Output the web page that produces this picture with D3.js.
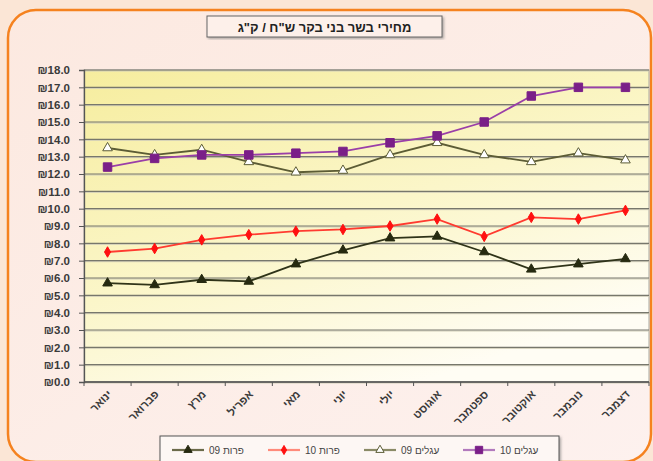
<!DOCTYPE html>
<html>
<head>
<meta charset="utf-8">
<script src="https://cdn.jsdelivr.net/npm/d3@7"></script>
<style>
  body { margin: 0; background: #fbe6d6; }
  svg { display: block; font-family: "Liberation Sans", "DejaVu Sans", Arial, sans-serif; }
</style>
</head>
<body>
<svg id="chart"></svg>
<script>
// data
let months = ["ינואר", "פברואר", "מרץ", "אפריל", "מאי", "יוני", "יולי", "אוגוסט", "ספטמבר", "אוקטובר", "נובמבר", "דצמבר"];
let cows09 = [5.7, 5.6, 5.9, 5.8, 6.8, 7.6, 8.3, 8.4, 7.5, 6.5, 6.8, 7.1];
let cows10 = [7.5, 7.7, 8.2, 8.5, 8.7, 8.8, 9.0, 9.4, 8.4, 9.5, 9.4, 9.9];
let calves09 = [13.5, 13.1, 13.4, 12.7, 12.1, 12.2, 13.1, 13.8, 13.1, 12.7, 13.2, 12.8];
let calves10 = [12.4, 12.9, 13.1, 13.1, 13.2, 13.3, 13.8, 14.2, 15.0, 16.5, 17.0, 17.0];
let seriesNames = ["פרות 09", "פרות 10", "עגלים 09", "עגלים 10"];
let yTicks = d3.range(0, 19, 1);
let title = "מחירי בשר בני בקר ש\"ח / ק\"ג";

let width = 653, height = 461;
let margin = {top: 70, right: 4, bottom: 79, left: 84};

let svg = d3.select("#chart")
    .attr("width", width)
    .attr("height", height);

let defs = svg.append("defs");
let bg = defs.append("linearGradient").attr("id", "bg")
    .attr("x1", 0).attr("y1", 0).attr("x2", 1).attr("y2", 1);
bg.append("stop").attr("offset", "0%").attr("stop-color", "#fce9e0");
bg.append("stop").attr("offset", "100%").attr("stop-color", "#fdf1ee");
let plotBg = defs.append("linearGradient").attr("id", "plotbg")
    .attr("x1", 0).attr("y1", 0).attr("x2", 0.6).attr("y2", 1);
plotBg.append("stop").attr("offset", "0%").attr("stop-color", "#f6ed9e");
plotBg.append("stop").attr("offset", "55%").attr("stop-color", "#fbf6c9");
plotBg.append("stop").attr("offset", "100%").attr("stop-color", "#fffdf4");
let shadow = defs.append("filter").attr("id", "shadow");
shadow.append("feDropShadow").attr("dx", 1.5).attr("dy", 1.5).attr("stdDeviation", 0.8)
    .attr("flood-color", "#777").attr("flood-opacity", 0.6);

// outer frame
svg.append("rect")
    .attr("x", 8).attr("y", 10)
    .attr("width", 643).attr("height", 452)
    .attr("rx", 28).attr("ry", 28)
    .attr("fill", "url(#bg)")
    .attr("stroke", "#f5821f")
    .attr("stroke-width", 2.5);

let x = d3.scalePoint()
    .domain(months)
    .range([margin.left, width - margin.right])
    .padding(0.5);
let step = x.step();

let y = d3.scaleLinear()
    .domain([0, 18])
    .range([height - margin.bottom, margin.top]);

// plot area
svg.append("rect")
    .attr("x", margin.left)
    .attr("y", y(18))
    .attr("width", width - margin.right - margin.left)
    .attr("height", y(0) - y(18))
    .attr("fill", "url(#plotbg)")
    .attr("stroke", "#a8a8a0")
    .attr("stroke-width", 1);

// gridlines
svg.append("g")
    .selectAll("line")
    .data(yTicks)
    .enter().append("line")
    .attr("x1", margin.left)
    .attr("x2", width - margin.right)
    .attr("y1", d => y(d) + 1)
    .attr("y2", d => y(d) + 1)
    .attr("stroke", "#d0cdb8")
    .attr("stroke-width", 1);
svg.append("g")
    .selectAll("line")
    .data(yTicks)
    .enter().append("line")
    .attr("x1", margin.left)
    .attr("x2", width - margin.right)
    .attr("y1", d => y(d))
    .attr("y2", d => y(d))
    .attr("stroke", "#77776c")
    .attr("stroke-width", 1.2);

// y axis
let yAxis = d3.axisLeft(y)
    .tickValues(yTicks)
    .tickSize(5)
    .tickPadding(9)
    .tickFormat(d => "₪" + d3.format(".1f")(d));
let gy = svg.append("g")
    .attr("transform", "translate(" + margin.left + ",0)")
    .call(yAxis);
gy.select(".domain").attr("stroke", "#555").attr("stroke-width", 1.3);
gy.selectAll(".tick line").attr("stroke", "#555");
gy.selectAll(".tick text")
    .attr("fill", "#3a3a3a")
    .style("font-size", "11.5px")
    .style("font-weight", "bold");

// x axis ticks between categories
let gx = svg.append("g");
gx.append("line")
    .attr("x1", margin.left).attr("x2", width - margin.right)
    .attr("y1", y(0)).attr("y2", y(0))
    .attr("stroke", "#555").attr("stroke-width", 1.3);
gx.selectAll(".xt")
    .data(d3.range(months.length + 1))
    .enter().append("line")
    .attr("x1", i => margin.left + i * step)
    .attr("x2", i => margin.left + i * step)
    .attr("y1", y(0))
    .attr("y2", y(0) + 4)
    .attr("stroke", "#555");
gx.selectAll(".xl")
    .data(months)
    .enter().append("text")
    .attr("transform", d => "translate(" + (x(d) + 5) + "," + (y(0) + 13) + ") rotate(-45)")
    .attr("text-anchor", "end")
    .attr("fill", "#3a3a3a")
    .style("font-size", "11px")
    .style("font-weight", "bold")
    .text(d => d);

// series
let series = [
    {name: seriesNames[0], values: cows09, line: "#2f3318", legendLine: "#6b6b4a", fill: "#262a10", stroke: "#262a10", shape: d3.symbolTriangle, size: 40},
    {name: seriesNames[1], values: cows10, line: "#ff3b30", legendLine: "#ff8a7a", fill: "#ff1010", stroke: "#ff1010", shape: d3.symbolDiamond, size: 32},
    {name: seriesNames[2], values: calves09, line: "#5c5c35", legendLine: "#8a8a66", fill: "#ffffff", stroke: "#5c5c35", shape: d3.symbolTriangle, size: 40},
    {name: seriesNames[3], values: calves10, line: "#9a3fa8", legendLine: "#b27abd", fill: "#7a1f88", stroke: "#7a1f88", shape: d3.symbolSquare, size: 72}
];

let line = d3.line()
    .x((d, i) => x(months[i]))
    .y(d => y(d));

series.forEach(function(s) {
    let g = svg.append("g");
    g.append("path")
        .attr("d", line(s.values))
        .attr("fill", "none")
        .attr("stroke", s.line)
        .attr("stroke-width", 1.8);
    g.selectAll("path.m")
        .data(s.values)
        .enter().append("path")
        .attr("class", "m")
        .attr("transform", (d, i) => "translate(" + x(months[i]) + "," + y(d) + ")")
        .attr("d", d3.symbol().type(s.shape).size(s.size))
        .attr("fill", s.fill)
        .attr("stroke", s.stroke)
        .attr("stroke-width", 1);
});

// title
let tg = svg.append("g");
tg.append("rect")
    .attr("x", 207).attr("y", 16)
    .attr("width", 235).attr("height", 21)
    .attr("fill", "#fdf0ea")
    .attr("stroke", "#666")
    .attr("stroke-width", 1)
    .attr("filter", "url(#shadow)");
tg.append("text")
    .attr("x", 324.5).attr("y", 31.5)
    .attr("text-anchor", "middle")
    .attr("fill", "#222")
    .style("font-size", "13px")
    .style("font-weight", "bold")
    .text(title);

// legend
let lg = svg.append("g");
lg.append("rect")
    .attr("x", 160).attr("y", 436)
    .attr("width", 399).attr("height", 40)
    .attr("fill", "#fdf7f4")
    .attr("stroke", "#555")
    .attr("stroke-width", 1)
    .attr("filter", "url(#shadow)");
let legendX = [172, 268, 364, 463];
series.forEach(function(s, i) {
    let g = lg.append("g").attr("transform", "translate(" + legendX[i] + ",450)");
    g.append("line")
        .attr("x1", 0).attr("x2", 32)
        .attr("stroke", s.legendLine)
        .attr("stroke-width", 2.2);
    g.append("path")
        .attr("transform", "translate(16,0)")
        .attr("d", d3.symbol().type(s.shape).size(s.size * 0.75))
        .attr("fill", s.fill)
        .attr("stroke", s.stroke);
    g.append("text")
        .attr("x", 37).attr("y", 3.5)
        .attr("fill", "#444")
        .style("font-size", "10px")
        .text(s.name);
});
</script>
</body>
</html>
